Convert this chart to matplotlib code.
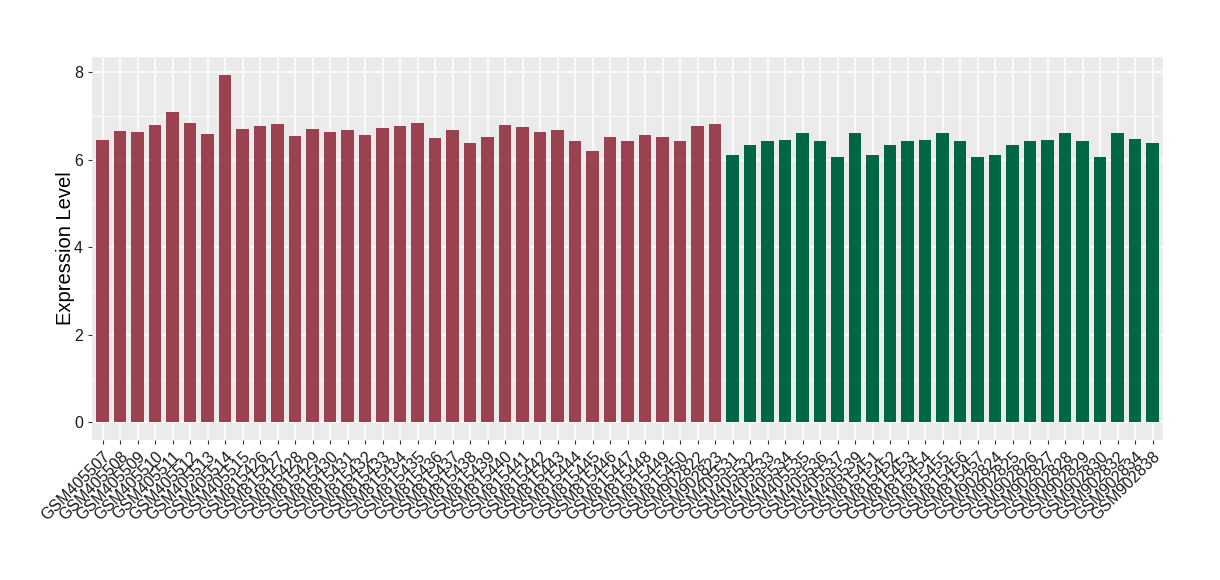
import matplotlib
matplotlib.use("Agg")
import matplotlib.pyplot as plt
from matplotlib.ticker import MultipleLocator

plt.rcParams["font.family"] = ["Liberation Sans", "DejaVu Sans"]

# Samples of the first group (red)
group1_samples = (
    [f"GSM4055{n:02d}" for n in range(7, 16)]
    + [f"GSM8154{n}" for n in range(26, 51)]
    + ["GSM902822", "GSM902823"]
)
group1_values = [
    6.45, 6.65, 6.63, 6.80, 7.10, 6.85, 6.60, 7.95, 6.70, 6.77,
    6.82, 6.55, 6.70, 6.63, 6.68, 6.57, 6.73, 6.77, 6.85, 6.50,
    6.68, 6.38, 6.52, 6.80, 6.75, 6.63, 6.68, 6.42, 6.20, 6.52,
    6.43, 6.57, 6.52, 6.43, 6.77, 6.82,
]

# Samples of the second group (green)
group2_samples = (
    ["GSM405531", "GSM405532", "GSM405533", "GSM405534", "GSM405535",
     "GSM405536", "GSM405537", "GSM405539"]
    + [f"GSM8154{n}" for n in range(51, 58)]
    + ["GSM902824", "GSM902825", "GSM902826", "GSM902827", "GSM902828",
       "GSM902829", "GSM902830", "GSM902832", "GSM902834", "GSM902838"]
)
group2_values = [
    6.10, 6.33, 6.43, 6.45, 6.62, 6.43, 6.07, 6.62,
    6.10, 6.33, 6.43, 6.45, 6.62, 6.43, 6.07,
    6.10, 6.33, 6.43, 6.45, 6.62, 6.43, 6.07, 6.62, 6.48, 6.38,
]

red = "#9A4250"
green = "#006746"

samples = group1_samples + group2_samples
values = group1_values + group2_values
colors = [red] * len(group1_samples) + [green] * len(group2_samples)
x = list(range(len(samples)))

fig = plt.figure(figsize=(12.2, 5.8), dpi=100)
ax = fig.add_axes([92 / 1220, 1 - 440 / 580, (1163 - 92) / 1220, (440 - 57) / 580])
ax.set_facecolor("#EBEBEB")

# ggplot-like grid
ax.yaxis.set_minor_locator(MultipleLocator(1))
ax.yaxis.set_major_locator(MultipleLocator(2))
ax.grid(which="major", axis="both", color="white", linewidth=1.1)
ax.grid(which="minor", axis="y", color="white", linewidth=0.55)
ax.set_axisbelow(True)

ax.bar(x, values, width=0.7, color=colors, zorder=2)

ax.set_xlim(-0.6, len(samples) - 0.4)
ax.set_ylim(-0.4, 8.35)

ax.set_xticks(x)
ax.set_xticklabels(samples, rotation=45, ha="right", va="top",
                   rotation_mode="anchor", fontsize=11.5, color="#1A1A1A")
ax.tick_params(axis="y", labelsize=11.5, labelcolor="#1A1A1A")
ax.tick_params(which="both", color="#333333", length=3)
ax.tick_params(which="minor", length=0)

for s in ax.spines.values():
    s.set_visible(False)

ax.set_ylabel("Expression Level", fontsize=14.5, labelpad=-1)

fig.savefig("out.png", dpi=100)
